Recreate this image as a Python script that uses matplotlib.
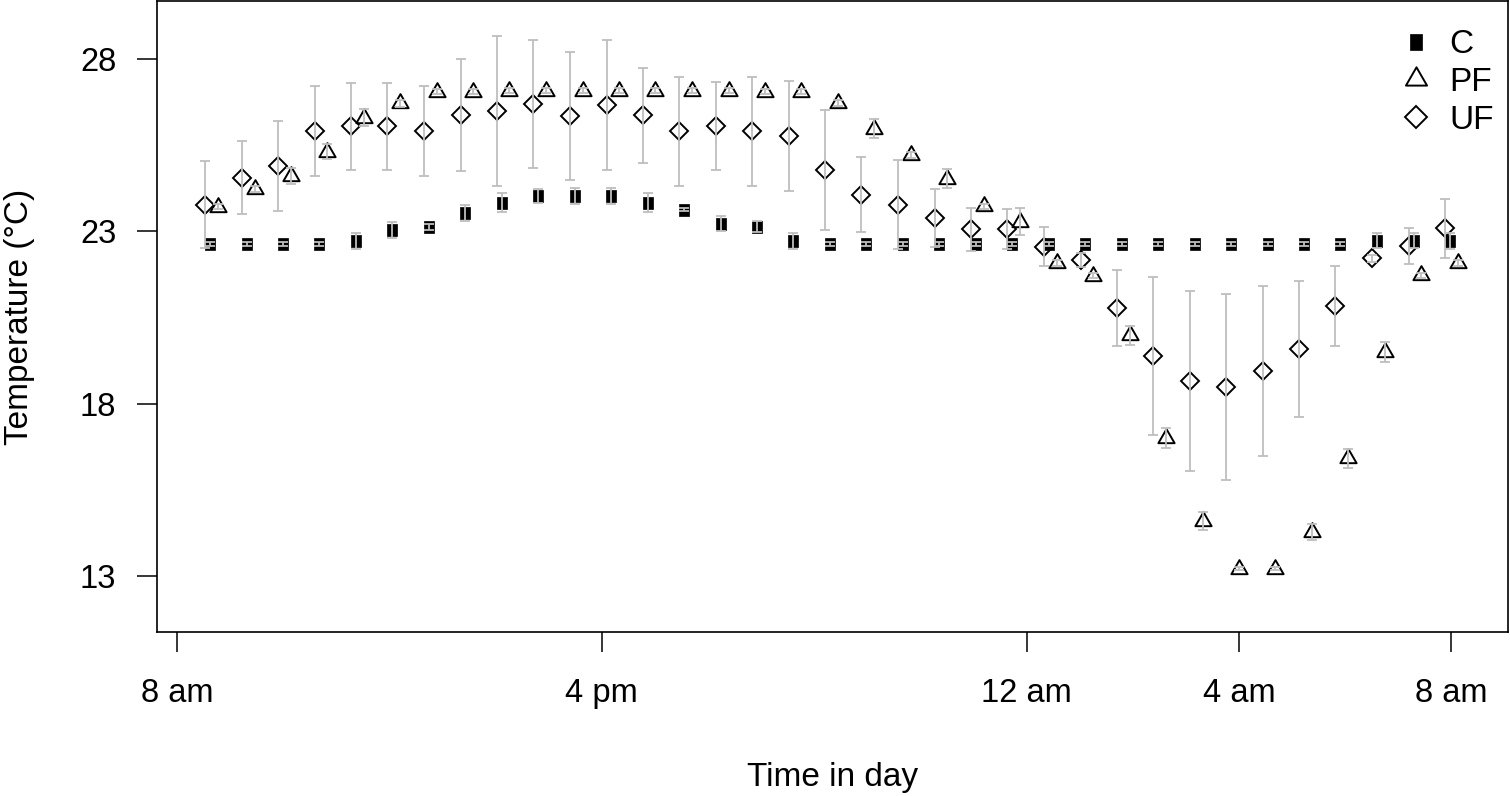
import matplotlib
matplotlib.use("Agg")
import matplotlib.pyplot as plt
from matplotlib.lines import Line2D
from matplotlib.path import Path

plt.rcParams['font.family'] = ['Liberation Sans', 'DejaVu Sans']

# hora de cada medicion (horas, 24 = medianoche, >24 = dia siguiente)
horas = [8.62, 9.31, 9.99, 10.68, 11.37, 12.05, 12.74, 13.43, 14.11, 14.80,
         15.49, 16.18, 16.86, 17.55, 18.24, 18.92, 19.61, 20.30, 20.98, 21.67,
         22.36, 23.05, 23.73, 24.42, 25.11, 25.79, 26.48, 27.17, 27.85, 28.54,
         29.23, 29.91, 30.60, 31.29, 31.97]

# temperatura media y error de cada tratamiento
temp_C = [22.62, 22.62, 22.62, 22.62, 22.71, 23.03, 23.12, 23.52, 23.82, 24.02,
          24.02, 24.02, 23.82, 23.62, 23.22, 23.13, 22.72, 22.62, 22.62, 22.62,
          22.62, 22.62, 22.62, 22.62, 22.62, 22.62, 22.62, 22.62, 22.62, 22.62,
          22.62, 22.62, 22.72, 22.72, 22.72]
err_C = [0.05, 0.05, 0.05, 0.05, 0.23, 0.23, 0.10, 0.23, 0.28, 0.20,
         0.23, 0.23, 0.28, 0.05, 0.23, 0.15, 0.23, 0.05, 0.05, 0.05,
         0.05, 0.05, 0.05, 0.05, 0.05, 0.05, 0.05, 0.05, 0.05, 0.05,
         0.05, 0.05, 0.22, 0.22, 0.23]

temp_PF = [23.71, 24.22, 24.60, 25.30, 26.29, 26.71, 27.04, 27.04, 27.07, 27.07,
           27.07, 27.07, 27.07, 27.07, 27.07, 27.04, 27.04, 26.71, 25.97, 25.20,
           24.52, 23.72, 23.27, 22.08, 21.71, 19.98, 17.00, 14.60, 13.22, 13.22,
           14.28, 16.41, 19.50, 21.72, 22.08]
err_PF = [0.08, 0.08, 0.24, 0.22, 0.24, 0.10, 0.08, 0.08, 0.08, 0.08,
          0.08, 0.08, 0.08, 0.08, 0.08, 0.08, 0.08, 0.08, 0.28, 0.08,
          0.28, 0.08, 0.39, 0.08, 0.08, 0.28, 0.28, 0.26, 0.05, 0.05,
          0.24, 0.28, 0.28, 0.08, 0.08]

temp_UF = [23.76, 24.55, 24.88, 25.91, 26.04, 26.04, 25.91, 26.36, 26.48, 26.68,
           26.34, 26.65, 26.36, 25.90, 26.05, 25.90, 25.75, 24.77, 24.06, 23.77,
           23.39, 23.05, 23.05, 22.55, 22.16, 20.76, 19.38, 18.65, 18.49, 18.95,
           19.57, 20.83, 22.21, 22.57, 23.08]
err_UF = [1.26, 1.06, 1.31, 1.30, 1.26, 1.26, 1.30, 1.63, 2.18, 1.85,
          1.85, 1.88, 1.38, 1.58, 1.28, 1.58, 1.59, 1.75, 1.10, 1.29,
          0.84, 0.62, 0.58, 0.56, 0.20, 1.10, 2.28, 2.61, 2.70, 2.46,
          1.97, 1.16, 0.10, 0.53, 0.85]

ticks_x = [8, 16, 24, 28, 32]
etiquetas_x = ['8 am', '4 pm', '12 am', '4 am', '8 am']
ticks_y = [13, 18, 23, 28]

# desplazamiento horizontal de cada serie (horas)
desp = {'C': 0.0, 'PF': 0.15, 'UF': -0.09}

# triangulo con el centroide en el punto (como pch=2 de R)
triangulo = Path([(0, 1), (0.866, -0.5), (-0.866, -0.5), (0, 1)], closed=True)
# cuadrado relleno algo alargado (pch=15 con las tapas encima)
rectangulo = Path([(-0.75, -1), (0.75, -1), (0.75, 1), (-0.75, 1), (-0.75, -1)], closed=True)

estilos = {
    'C': dict(marker=rectangulo, ms=9, mfc='black', mec='black', mew=0.5),
    'PF': dict(marker=triangulo, ms=13.5, mfc='none', mec='black', mew=1.4),
    'UF': dict(marker='D', ms=9, mfc='none', mec='black', mew=1.4),
}
datos = {'C': (temp_C, err_C), 'PF': (temp_PF, err_PF), 'UF': (temp_UF, err_UF)}

fig = plt.figure(figsize=(15.1, 7.96), dpi=100)
ax = fig.add_axes([157 / 1510, 1 - 632 / 796, 1351 / 1510, 631 / 796])

for serie in ['C', 'PF', 'UF']:
    y, e = datos[serie]
    x = [h + desp[serie] for h in horas]
    ax.plot(x, y, ls='none', zorder=2, **estilos[serie])
    ax.errorbar(x, y, yerr=e, fmt='none', ecolor='#bebebe', elinewidth=1.3,
                capsize=3.5, capthick=1.3, zorder=3)

ax.set_xlim(7.62, 33.07)
ax.set_ylim(11.38, 29.67)
ax.set_xticks(ticks_x)
ax.set_xticklabels(etiquetas_x)
ax.set_yticks(ticks_y)
ax.tick_params(direction='out', length=14.4, width=1.1, labelsize=23.5, color='black')
ax.tick_params(axis='x', pad=19)
ax.tick_params(axis='y', pad=15)
for s in ax.spines.values():
    s.set_linewidth(1.2)

ax.set_xlabel('Time in day', fontsize=24, labelpad=38)
ax.set_ylabel('Temperature (°C)', fontsize=24, labelpad=32)

manejadores = [Line2D([], [], ls='none', **estilos[s]) for s in ['C', 'PF', 'UF']]
ax.legend(manejadores, ['C', 'PF', 'UF'], loc='upper left', frameon=False,
          fontsize=24, markerscale=1.3, handlelength=1.0, handletextpad=0.5,
          labelspacing=0.2, borderaxespad=0, bbox_to_anchor=(0.910, 0.976))

plt.savefig('out.png', dpi=100)
